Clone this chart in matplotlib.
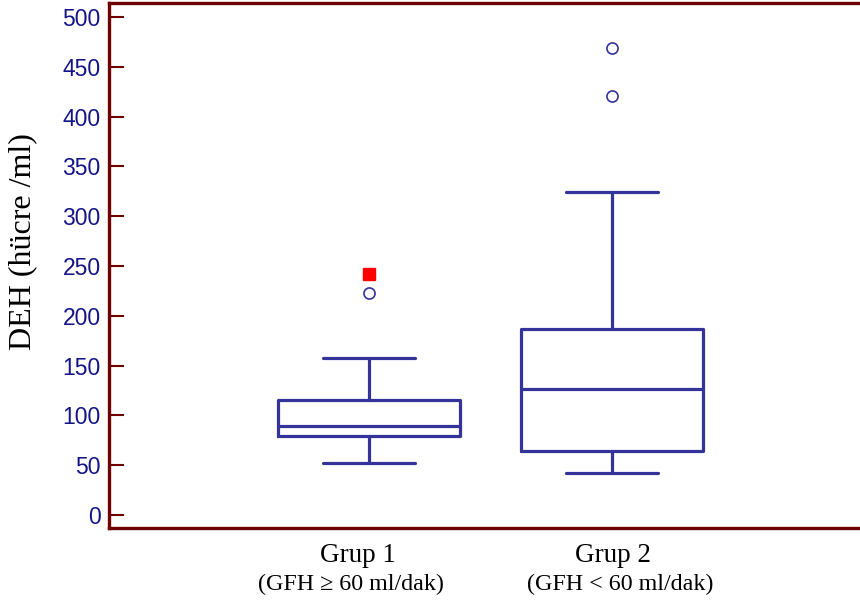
import matplotlib
matplotlib.use("Agg")
import matplotlib.pyplot as plt
import matplotlib.transforms as mtransforms

# box statistics
groups = ["Grup 1", "Grup 2"]
subtitles = ["(GFH \u2265 60 ml/dak)", "(GFH < 60 ml/dak)"]
whisker_low = [52, 42]
q1 = [79, 64]
median = [89, 127]
q3 = [116, 187]
whisker_high = [158, 324]
outliers = [[223], [421, 469]]
far_outliers = [[242], []]

yticks = [0, 50, 100, 150, 200, 250, 300, 350, 400, 450, 500]

box_color = "#333399"
spine_color = "#6e0000"
label_color = "#141488"

fig = plt.figure(figsize=(8.6, 6.06), dpi=100)
ax = fig.add_axes([0.1267, 0.1287, 0.8733, 0.8663])

stats = []
for i in range(len(groups)):
    stats.append({
        "whislo": whisker_low[i], "q1": q1[i], "med": median[i],
        "q3": q3[i], "whishi": whisker_high[i], "fliers": outliers[i],
        "label": groups[i],
    })

line = dict(color=box_color, linewidth=2.3, solid_capstyle="round")
ax.bxp(stats, positions=[1, 2], widths=0.75, capwidths=0.38,
       boxprops=line, whiskerprops=line, capprops=line, medianprops=line,
       flierprops=dict(marker="o", markerfacecolor="none",
                       markeredgecolor=box_color, markersize=8,
                       markeredgewidth=1.2))

for i, vals in enumerate(far_outliers):
    if vals:
        ax.plot([i + 1] * len(vals), vals, "s", color="red", markersize=8)

ax.set_xlim(-0.07, 3.02)
ax.set_ylim(-13, 514)
ax.set_yticks(yticks)
ax.set_xticks([])

for s in ["left", "top", "bottom"]:
    ax.spines[s].set_color(spine_color)
    ax.spines[s].set_linewidth(2.4)
ax.spines["right"].set_visible(False)

ax.tick_params(axis="y", direction="in", length=11, width=1.5,
               color=spine_color, labelcolor=label_color, pad=6)
for lab in ax.get_yticklabels():
    lab.set_fontfamily("Liberation Sans")
    lab.set_fontsize(16.5)

ax.set_ylabel("DEH (h\u00fccre /ml)", fontfamily="Liberation Serif",
              fontsize=23)
ax.yaxis.set_label_coords(-0.096, 0.545)

# the group captions sit a little off the box centres in the reference
title_shift = [-0.044, 0.004]
sub_shift = [-0.074, 0.033]
trans = mtransforms.blended_transform_factory(ax.transData, ax.transAxes)
for i in range(len(groups)):
    ax.text(i + 1 + title_shift[i], -0.052, groups[i], transform=trans,
            ha="center", va="center", fontfamily="Liberation Serif",
            fontsize=19.5)
    ax.text(i + 1 + sub_shift[i], -0.108, subtitles[i], transform=trans,
            ha="center", va="center",
            fontfamily=["Liberation Serif", "DejaVu Serif"], fontsize=17.3)

fig.savefig("out.png", dpi=100)
